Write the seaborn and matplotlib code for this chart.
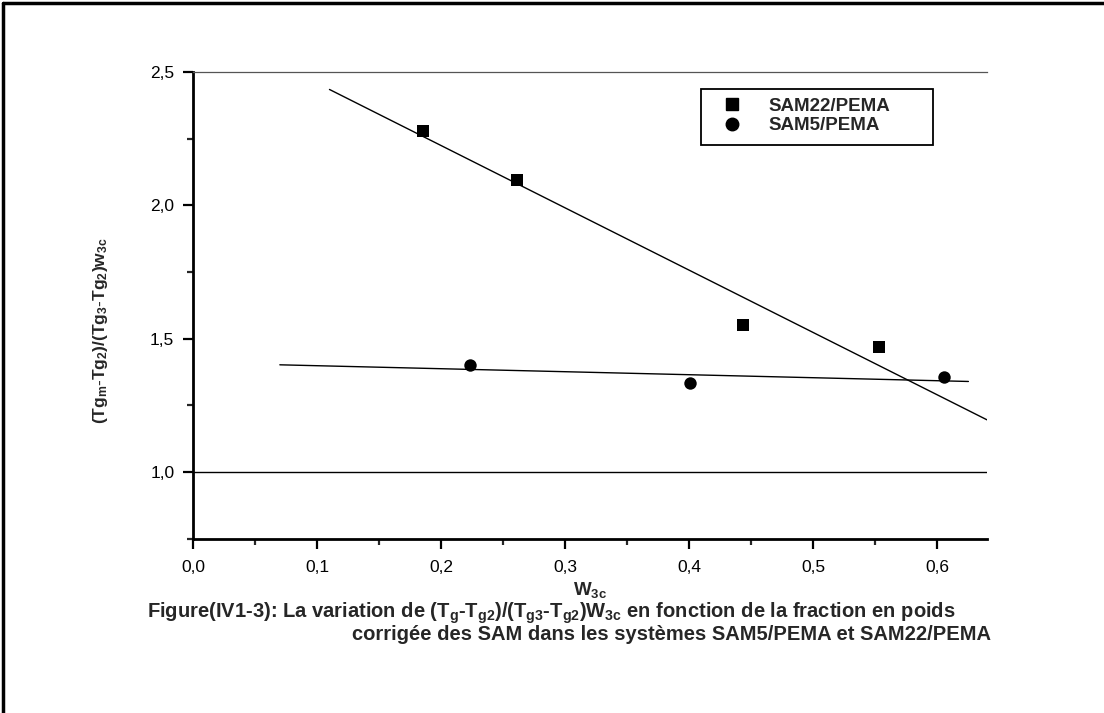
import numpy as np
import pandas as pd
import matplotlib
matplotlib.use("Agg")
import matplotlib.pyplot as plt
from matplotlib.lines import Line2D
from matplotlib.patches import Rectangle
from matplotlib.ticker import MultipleLocator, FuncFormatter
import seaborn as sns

# Measured points
sam22_w = [0.185, 0.261, 0.443, 0.553]
sam22_ratio = [2.28, 2.095, 1.55, 1.47]
sam5_w = [0.223, 0.401, 0.605]
sam5_ratio = [1.40, 1.335, 1.355]
series_names = ["SAM22/PEMA", "SAM5/PEMA"]

# Extent of each fitted line
sam22_fit_range = [0.11, 0.64]
sam5_fit_range = [0.07, 0.625]

x_ticks = [0.0, 0.1, 0.2, 0.3, 0.4, 0.5, 0.6]
y_ticks = [1.0, 1.5, 2.0, 2.5]

sns.set_theme(style="white")
plt.rcParams["font.family"] = ["Liberation Sans", "DejaVu Sans"]
plt.rcParams["mathtext.fontset"] = "custom"
plt.rcParams["mathtext.rm"] = "Liberation Sans"
plt.rcParams["mathtext.bf"] = "Liberation Sans:bold"
plt.rcParams["mathtext.it"] = "Liberation Sans:italic"

df = pd.DataFrame({
    "w": sam22_w + sam5_w,
    "ratio": sam22_ratio + sam5_ratio,
    "serie": [series_names[0]] * len(sam22_w) + [series_names[1]] * len(sam5_w),
})

W, H = 1104, 713
fig = plt.figure(figsize=(W / 100, H / 100), dpi=100)
fig.patch.set_facecolor("white")
left, right, top, bottom = 193, 987, 72, 538.5
ax = fig.add_axes([left / W, 1 - bottom / H, (right - left) / W, (bottom - top) / H])

sns.scatterplot(data=df[df.serie == series_names[0]], x="w", y="ratio",
                marker="s", color="black", s=64, linewidth=0,
                legend=False, ax=ax, zorder=3)
sns.scatterplot(data=df[df.serie == series_names[1]], x="w", y="ratio",
                marker="o", color="black", s=80, linewidth=0,
                legend=False, ax=ax, zorder=3)

# Linear regressions
for xs, ys, rng in [(sam22_w, sam22_ratio, sam22_fit_range),
                    (sam5_w, sam5_ratio, sam5_fit_range)]:
    k, b = np.polyfit(xs, ys, 1)
    xx = np.array(rng)
    sns.lineplot(x=xx, y=k * xx + b, color="black", linewidth=1.0, ax=ax)

ax.axhline(1.0, color="black", linewidth=1.0)

ax.set_xlim(0, 0.64)
ax.set_ylim(0.75, 2.5)
ax.set_xticks(x_ticks)
ax.set_yticks(y_ticks)
ax.xaxis.set_minor_locator(MultipleLocator(0.05))
ax.yaxis.set_minor_locator(MultipleLocator(0.25))
comma = FuncFormatter(lambda v, p: f"{v:.1f}".replace(".", ","))
ax.xaxis.set_major_formatter(comma)
ax.yaxis.set_major_formatter(comma)
ax.tick_params(axis="both", which="major", direction="out", length=7.5, width=1.6,
               labelsize=12.5, colors="black", bottom=True, left=True)
ax.tick_params(axis="x", which="major", pad=8)
ax.tick_params(axis="y", which="major", pad=6)
ax.tick_params(axis="both", which="minor", direction="out", length=4.5, width=1.6,
               bottom=True, left=True)
ax.tick_params(axis="x", which="both", top=False)
ax.tick_params(axis="y", which="both", right=False)

for side in ["left", "bottom"]:
    ax.spines[side].set_linewidth(2.0)
    ax.spines[side].set_color("black")
ax.spines["top"].set_linewidth(0.9)
ax.spines["top"].set_color("#555555")
ax.spines["right"].set_visible(False)
ax.grid(False)

ax.set_xlabel(r"$\mathbf{W}_{\mathbf{3c}}$", fontsize=13.5, fontweight="bold")
ax.xaxis.set_label_coords(0.5, -(590 - bottom) / (bottom - top), transform=ax.transAxes)
ax.xaxis.label.set_va("center")
ax.set_ylabel(r"$\mathbf{(Tg_m\text{-}Tg_2)/(Tg_3\text{-}Tg_2)w_{3c}}$",
              fontsize=12.5, fontweight="bold")
ax.yaxis.set_label_coords(-(left - 100) / (right - left), (bottom - 331) / (bottom - top))
ax.yaxis.label.set_va("center")

# Legend: entries without frame, box drawn as a separate rectangle
handles = [
    Line2D([], [], marker="s", linestyle="none", color="black", markersize=8),
    Line2D([], [], marker="o", linestyle="none", color="black", markersize=9),
]
leg = ax.legend(handles, series_names, loc="center left",
                bbox_to_anchor=((723 - left) / (right - left), (bottom - 116) / (bottom - top)),
                frameon=False, prop={"weight": "bold", "size": 13.5},
                handlelength=1.0, handletextpad=1.45, borderpad=0,
                labelspacing=0.12, borderaxespad=0)
ax.add_patch(Rectangle(((701 - left) / (right - left), (bottom - 145) / (bottom - top)),
                       (933 - 701) / (right - left), (145 - 89) / (bottom - top),
                       transform=ax.transAxes, fill=False, edgecolor="black",
                       linewidth=1.3, zorder=4))

cap1 = (r"Figure(IV1-3): La variation de (T$_\mathbf{g}$-T$_\mathbf{g2}$)/(T$_\mathbf{g3}$-T$_\mathbf{g2}$)W$_\mathbf{3c}$"
        " en fonction de la fraction en poids")
cap2 = "corrigée des SAM dans les systèmes SAM5/PEMA et SAM22/PEMA"
fig.text(147 / W, 1 - 613 / H, cap1, fontsize=14.5, fontweight="bold", ha="left", va="center")
fig.text(352 / W, 1 - 634 / H, cap2, fontsize=14.5, fontweight="bold", ha="left", va="center")

# Page border
fig.add_artist(Line2D([3 / W, 3 / W], [0, 1 - 3 / H], transform=fig.transFigure,
                      color="black", linewidth=2.5))
fig.add_artist(Line2D([3 / W, 1], [1 - 3 / H, 1 - 3 / H], transform=fig.transFigure,
                      color="black", linewidth=2.5))

fig.savefig("out.png", dpi=100, facecolor="white")
